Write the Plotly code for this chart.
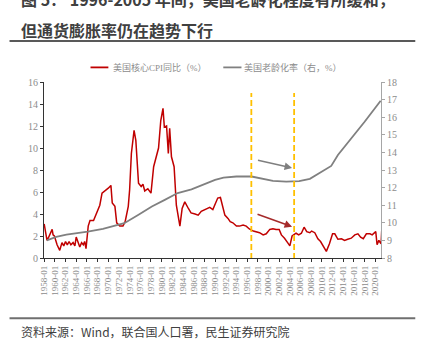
import plotly.graph_objects as go

# US core CPI, year-on-year (%), left axis
cpi_dates = [
    "1958-01", "1958-04", "1958-07", "1958-10", "1959-03", "1959-07", "1959-09", "1959-12",
    "1960-06", "1960-12", "1961-05", "1961-09", "1962-01", "1962-05", "1962-09", "1963-01",
    "1963-06", "1963-10", "1964-01", "1964-04", "1964-09", "1965-01", "1965-05", "1965-08",
    "1965-11", "1966-04", "1966-08", "1967-04", "1967-11", "1968-06", "1968-11", "1969-06",
    "1970-01", "1970-07", "1970-10", "1971-04", "1971-08", "1972-03", "1972-10", "1973-03",
    "1973-10", "1974-01", "1974-05", "1974-11", "1975-03", "1975-09", "1976-03", "1976-07",
    "1976-11", "1977-06", "1978-01", "1978-07", "1979-01", "1979-06", "1979-11", "1980-04",
    "1980-07", "1980-12", "1981-04", "1981-07", "1981-11", "1982-05", "1982-10", "1983-06",
    "1983-11", "1984-05", "1985-01", "1985-07", "1986-04", "1986-11", "1987-06", "1988-05",
    "1989-01", "1989-08", "1990-03", "1990-07", "1991-01", "1991-05", "1991-11", "1992-06",
    "1992-11", "1993-05", "1994-01", "1994-08", "1995-04", "1995-11", "1996-06", "1997-03",
    "1997-10", "1998-05", "1999-01", "1999-08", "2000-04", "2000-11", "2001-06", "2002-01",
    "2002-06", "2003-01", "2003-08", "2004-01", "2004-06", "2005-03", "2005-09", "2006-03",
    "2006-09", "2007-03", "2007-10", "2008-02", "2008-09", "2009-04", "2009-10", "2010-06",
    "2010-11", "2011-06", "2012-01", "2012-06", "2013-01", "2013-09", "2014-04", "2014-11",
    "2015-07", "2016-03", "2016-10", "2017-04", "2017-10", "2018-05", "2019-01", "2019-06",
    "2019-12", "2020-02", "2020-05", "2020-09", "2020-12", "2021-02", "2021-04",
]
cpi_values = [
    3.1, 2.2, 1.7, 1.8, 2.3, 2.6, 2.1, 2.0,
    1.2, 0.7, 1.4, 1.1, 1.5, 1.2, 1.5, 1.2,
    1.4, 1.1, 1.9, 1.5, 1.0, 1.4, 1.2, 1.5,
    0.85, 2.9, 3.4, 3.4, 4.2, 4.8, 5.9, 6.1,
    6.35, 6.6, 5.0, 4.7, 3.2, 2.9, 2.9, 3.3,
    4.7, 6.2, 9.5, 11.6, 10.7, 6.8, 6.5, 6.7,
    6.1, 6.3, 5.9, 8.3, 9.2, 10.0, 12.5, 13.6,
    11.9, 12.0, 9.5, 11.8, 9.2, 8.3, 4.8, 2.9,
    4.5, 5.1, 4.5, 4.1, 4.0, 3.9, 4.25, 4.45,
    4.6, 4.4, 5.0, 5.45, 5.5, 4.8, 3.9, 3.6,
    3.3, 3.2, 2.9, 2.9, 3.0, 2.9, 2.64, 2.45,
    2.4, 2.3, 2.1, 2.2, 2.6, 2.65, 2.6, 2.6,
    2.1, 1.8, 1.4, 1.1, 2.0, 2.25, 2.1, 2.25,
    2.8, 2.4, 2.3, 2.45, 2.3, 1.75, 1.5, 0.9,
    0.6, 1.3, 2.2, 2.2, 1.7, 1.75, 1.6, 1.7,
    1.8, 2.1, 2.2, 1.9, 1.75, 2.2, 2.2, 2.1,
    2.3, 2.4, 1.2, 1.6, 1.4, 1.3, 3.0,
]

# US population share aged 65+ (%), right axis
aging_dates = [
    "1958-07", "1960-04", "1962-03", "1964-01", "1966-03", "1969-01", "1971-07", "1973-01",
    "1975-09", "1978-03", "1980-08", "1983-01", "1985-08", "1988-01", "1990-01", "1991-08",
    "1994-01", "1996-11", "1998-05", "2000-11", "2003-05", "2005-10", "2007-10", "2010-01",
    "2011-10", "2013-01", "2015-08", "2018-01", "2021-01",
]
aging_values = [
    9.0, 9.2, 9.33, 9.4, 9.5, 9.65, 9.88, 9.98,
    10.46, 10.93, 11.3, 11.69, 11.9, 12.2, 12.44, 12.57,
    12.63, 12.63, 12.54, 12.38, 12.34, 12.37, 12.5, 12.91,
    13.23, 13.85, 14.8, 15.74, 16.93,
]

# period of easing in population ageing
period_marks = ["1996-10-15", "2004-10-20"]

cpi_name = "美国核心CPI同比（%）"
aging_name = "美国老龄化率（右，%）"
title_line1 = "图 5： 1996-2005 年间，美国老龄化程度有所缓和，"
title_line2 = "但通货膨胀率仍在趋势下行"
source_text = "资料来源：Wind，联合国人口署，民生证券研究院"

RED = "#C00000"
GREY = "#808080"
ORANGE = "#FFC000"
TICK_FONT = dict(family="Liberation Serif, Noto Sans CJK SC", size=10, color="#8c8c8c")
CJK = "Noto Sans CJK SC, Microsoft YaHei, sans-serif"

fig = go.Figure()
fig.add_trace(go.Scatter(x=cpi_dates, y=cpi_values, mode="lines", name=cpi_name,
                         line=dict(color=RED, width=1.5), yaxis="y"))
fig.add_trace(go.Scatter(x=aging_dates, y=aging_values, mode="lines", name=aging_name,
                         line=dict(color=GREY, width=1.8), yaxis="y2"))

for d in period_marks:
    fig.add_shape(type="line", xref="x", yref="y", x0=d, x1=d, y0=-0.1, y1=15,
                  line=dict(color=ORANGE, width=1.8, dash="6px,3px"))

# trend arrows
fig.add_annotation(x="2004-06-01", y=8.19, ax="1997-10-01", ay=8.91, xref="x", yref="y",
                   axref="x", ayref="y", text="", showarrow=True, arrowhead=2,
                   arrowsize=1, arrowwidth=1.5, arrowcolor="#7f7f7f")
fig.add_annotation(x="2004-06-01", y=2.85, ax="1997-09-01", ay=4.03, xref="x", yref="y",
                   axref="x", ayref="y", text="", showarrow=True, arrowhead=2,
                   arrowsize=1, arrowwidth=1.5, arrowcolor="#a52a2a")

# legend drawn by hand for short line samples
leg_y = 1.083
for x0, x1, col, tx, label in [(0.138, 0.191, RED, 0.200, cpi_name),
                               (0.532, 0.586, GREY, 0.589, aging_name)]:
    fig.add_shape(type="line", xref="paper", yref="paper", x0=x0, x1=x1, y0=leg_y, y1=leg_y,
                  line=dict(color=col, width=1.8))
    fig.add_annotation(x=tx, y=leg_y, xref="paper", yref="paper", text=label, showarrow=False,
                       xanchor="left", yanchor="middle",
                       font=dict(family="Liberation Serif, Noto Sans CJK SC", size=9, color="#8c8c8c"))

# title block
fig.add_annotation(x=-0.0756, y=1.472, xref="paper", yref="paper", text=title_line1,
                   showarrow=False, xanchor="left", yanchor="middle",
                   font=dict(family=CJK, size=16, color="#404040", weight="bold"))
fig.add_annotation(x=-0.0756, y=1.295, xref="paper", yref="paper", text=title_line2,
                   showarrow=False, xanchor="left", yanchor="middle",
                   font=dict(family=CJK, size=16, color="#404040", weight="bold"))
fig.add_shape(type="line", xref="paper", yref="paper", x0=-0.1023, x1=1.1017, y0=1.233, y1=1.233,
              line=dict(color="#595959", width=2))
fig.add_shape(type="line", xref="paper", yref="paper", x0=-0.1023, x1=1.1017, y0=-0.342, y1=-0.342,
              line=dict(color="#6f6f6f", width=2))
fig.add_annotation(x=-0.0756, y=-0.4157, xref="paper", yref="paper", text=source_text,
                   showarrow=False, xanchor="left", yanchor="middle",
                   font=dict(family=CJK, size=12, color="#404040"))

fig.update_layout(
    width=422, height=350,
    margin=dict(l=43.5, r=41.3, t=81.7, b=91.5),
    paper_bgcolor="white", plot_bgcolor="white",
    showlegend=False,
    xaxis=dict(type="date", range=["1957-12-20", "2021-01-25"], tickformat="%Y-%m",
               dtick="M24", tick0="1958-01-01", tickangle=-90, ticks="outside", ticklen=3,
               tickcolor="#333333", showline=True, linecolor="#333333", linewidth=1.2,
               showgrid=False, zeroline=False, tickfont=dict(family="Liberation Serif", size=9, color="#8c8c8c")),
    yaxis=dict(range=[0, 16], dtick=2, ticks="outside", ticklen=3, tickcolor="#333333",
               showline=True, linecolor="#333333", linewidth=1.2, showgrid=False, zeroline=False,
               tickfont=TICK_FONT),
    yaxis2=dict(range=[8, 18], dtick=1, overlaying="y", side="right", ticks="outside", ticklen=3,
                tickcolor="#a6a6a6", showline=True, linecolor="#a6a6a6", linewidth=1.2,
                showgrid=False, zeroline=False, tickfont=TICK_FONT),
)

fig.write_html("out.html")
